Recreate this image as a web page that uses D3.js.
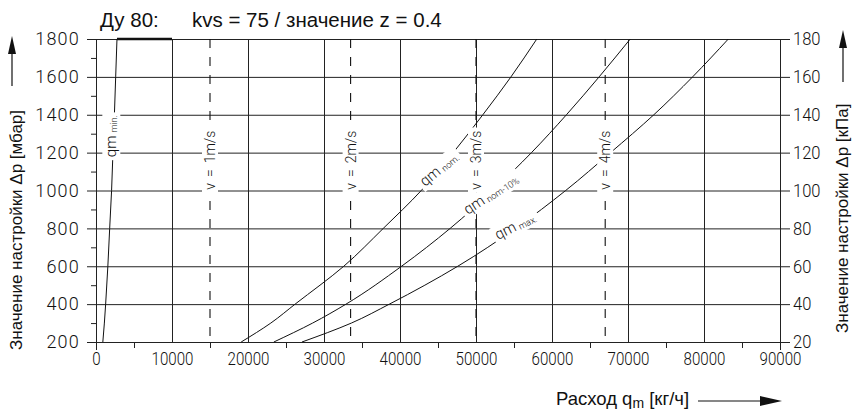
<!DOCTYPE html>
<html>
<head>
<meta charset="utf-8">
<script src="https://cdn.jsdelivr.net/npm/d3@7"></script>
<style>
  html, body { margin: 0; padding: 0; background: #fff; }
  svg { display: block; }
  .tick line { stroke: #222; }
  .iso { font-family: Roboto, "DejaVu Sans", sans-serif; font-weight: 300; fill: #111; }
  .arial { font-family: "Liberation Sans", Arial, sans-serif; fill: #111; }
</style>
</head>
<body>
<div id="chart"></div>
<script>
// Ду 80 pressure-setting chart: flow qm (kg/h) vs setting Δp (mbar)

// Δp levels at which the curves were read (mbar)
const dpLevels = [200, 300, 400, 600, 800, 1000, 1200, 1400, 1600, 1800];
// flow readings (kg/h) at each Δp level
const qmMin   = [900, 1100, 1270, 1560, 1800, 2050, 2230, 2420, 2590, 2760];
const qmNom   = [19100, 23000, 26200, 32600, 37800, 42800, 47000, 50900, 54600, 58000];
const qmNom10 = [23400, 28500, 32900, 40200, 46600, 52200, 57300, 61900, 66200, 70300];
const qmMax   = [27100, 33600, 38600, 47600, 55200, 61800, 67700, 73400, 78500, 83200];
// bold upper limit at 1800 mbar
const capFlow = [2760, 10000];
const capDp = 1800;

// velocity lines
const velLabels = ['1m/s', '2m/s', '3m/s', '4m/s'];
const velFlow = [15000, 33500, 50000, 67000];

// ticks
const xTicks = [0, 10000, 20000, 30000, 40000, 50000, 60000, 70000, 80000, 90000];
const xMinor = [5000, 15000, 25000, 35000, 45000, 55000, 65000, 75000, 85000];
const yTicks = [200, 400, 600, 800, 1000, 1200, 1400, 1600, 1800];
const yMinor = [300, 500, 700, 900, 1100, 1300, 1500, 1700];
const yRightTicks = [20, 40, 60, 80, 100, 120, 140, 160, 180];

const W = 852, H = 414;
const x = d3.scaleLinear().domain([0, 90000]).range([96, 780]);
const y = d3.scaleLinear().domain([200, 1800]).range([342, 39]);
const yR = d3.scaleLinear().domain([20, 180]).range([342, 39]);

const svg = d3.select('#chart').append('svg')
    .attr('width', W).attr('height', H);

// horizontal grid + left labels
const gLeft = svg.append('g')
    .attr('transform', 'translate(87,0)')
    .call(d3.axisLeft(y).tickValues(yTicks).tickSize(-(790 - 87)).tickPadding(7)
        .tickFormat(d3.format('d')));
gLeft.select('.domain').remove();
gLeft.selectAll('text').attr('class', 'iso').attr('font-size', 18).attr('font-family', null)
    .attr('letter-spacing', 1.2);

// left minor ticks
const gLeftMinor = svg.append('g')
    .attr('transform', `translate(${x(0)},0)`)
    .call(d3.axisLeft(y).tickValues(yMinor).tickSize(5).tickFormat(''));
gLeftMinor.select('.domain').remove();

// right labels
const gRight = svg.append('g')
    .attr('transform', 'translate(790,0)')
    .call(d3.axisRight(yR).tickValues(yRightTicks).tickSize(0).tickPadding(3));
gRight.select('.domain').remove();
gRight.selectAll('text').attr('class', 'iso').attr('font-size', 18).attr('font-family', null)
    .attr('transform', 'scale(0.92,1)')
    .attr('x', 3 / 0.92);

// vertical grid + bottom labels
const gBottom = svg.append('g')
    .attr('transform', `translate(0,${y(200)})`)
    .call(d3.axisBottom(x).tickValues(xTicks).tickSize(-(y(200) - y(1800))).tickPadding(10)
        .tickFormat(d3.format('d')));
gBottom.select('.domain').remove();
gBottom.selectAll('text').attr('class', 'iso').attr('font-size', 18).attr('font-family', null)
    .attr('transform', 'scale(0.84,1)');

// axis end lines run a little past the bottom
const gEnds = svg.append('g')
    .attr('transform', `translate(0,${y(200)})`)
    .call(d3.axisBottom(x).tickValues([0, 90000]).tickSize(8).tickFormat(''));
gEnds.select('.domain').remove();
const gBottomMinor = svg.append('g')
    .attr('transform', `translate(0,${y(200)})`)
    .call(d3.axisBottom(x).tickValues(xMinor).tickSize(6).tickFormat(''));
gBottomMinor.select('.domain').remove();

// velocity dashed lines
const velData = velFlow.map((q, i) => ({ q, label: velLabels[i] }));
svg.append('g').selectAll('line').data(velData).join('line')
    .attr('x1', d => x(d.q)).attr('x2', d => x(d.q))
    .attr('y1', y(1800)).attr('y2', y(200))
    .attr('stroke', '#111').attr('stroke-width', 1.1)
    .attr('stroke-dasharray', '9,9');

// curves
const line = d3.line().x(d => x(d[0])).y(d => y(d[1])).curve(d3.curveMonotoneY);
const curves = [qmMin, qmNom, qmNom10, qmMax].map(arr => arr.map((q, i) => [q, dpLevels[i]]));
svg.append('g').selectAll('path').data(curves).join('path')
    .attr('d', line)
    .attr('fill', 'none').attr('stroke', '#111').attr('stroke-width', 1);

svg.append('line')
    .attr('x1', x(capFlow[0])).attr('x2', x(capFlow[1]))
    .attr('y1', y(capDp)).attr('y2', y(capDp))
    .attr('stroke', '#111').attr('stroke-width', 2.6);

// label with white backing box, in rotated frame
function maskedLabel(px, py, angle, build, pad) {
    const g = svg.append('g').attr('transform', `translate(${px},${py}) rotate(${angle})`);
    const rect = g.append('rect').attr('fill', '#fff');
    const t = g.append('text').attr('class', 'iso');
    build(t);
    const b = t.node().getBBox();
    rect.attr('x', b.x - pad[0]).attr('y', b.y - pad[1])
        .attr('width', b.width + 2 * pad[0]).attr('height', b.height + 2 * pad[1]);
    return g;
}

// velocity labels
velData.forEach(d => {
    maskedLabel(x(d.q) + 5, y(1160), -90, t => {
        t.attr('text-anchor', 'middle').attr('font-size', 14);
        t.append('tspan').text('v');
        t.append('tspan').attr('dx', 6).text('=');
        t.append('tspan').attr('dx', 6).text(d.label);
    }, [3, 0]);
});

// curve labels
function qmLabel(t, sub, big, small) {
    t.attr('font-size', big);
    t.append('tspan').text('qm');
    t.append('tspan').attr('font-size', small).attr('dx', 3).attr('dy', 1).text(sub);
}
maskedLabel(x(2280) + 3, y(1176), -90, t => qmLabel(t, 'min.', 15, 9), [3, 0]);
maskedLabel(x(43300), y(1018), -40, t => qmLabel(t, 'nom.', 15, 9), [3, 0]);
maskedLabel(x(48900), y(870), -33, t => qmLabel(t, 'nom-10%', 15, 9), [3, 0]);
maskedLabel(x(52900), y(738), -27, t => qmLabel(t, 'max.', 15, 9), [3, 0]);

// title
svg.append('text').attr('class', 'arial').attr('x', 100).attr('y', 27)
    .attr('font-size', 20.5).text('Ду 80:');
svg.append('text').attr('class', 'arial').attr('x', 192).attr('y', 27)
    .attr('font-size', 20.5).text('kvs = 75 / значение z = 0.4');

// left axis title + arrow
svg.append('text').attr('class', 'arial')
    .attr('transform', 'translate(22,350) rotate(-90)')
    .attr('font-size', 17).text('Значение настройки Δр [мбар]');
svg.append('line').attr('x1', 12).attr('x2', 12).attr('y1', 86).attr('y2', 52)
    .attr('stroke', '#111').attr('stroke-width', 1.2);
svg.append('path').attr('d', 'M12,36 L8,54 L16,54 Z').attr('fill', '#111');

// right axis title + arrow
svg.append('text').attr('class', 'arial')
    .attr('transform', 'translate(848,333) rotate(-90)')
    .attr('font-size', 17).text('Значение настройки Δр [кПа]');
svg.append('line').attr('x1', 843).attr('x2', 843).attr('y1', 82).attr('y2', 48)
    .attr('stroke', '#111').attr('stroke-width', 1.2);
svg.append('path').attr('d', 'M843,30 L839,48 L847,48 Z').attr('fill', '#111');

// bottom axis title + arrow
const xt = svg.append('text').attr('class', 'arial').attr('x', 556).attr('y', 405).attr('font-size', 18.5);
xt.append('tspan').text('Расход q');
xt.append('tspan').attr('font-size', 14).attr('dy', 3).text('m');
xt.append('tspan').attr('dy', -3).text(' [кг/ч]');
svg.append('line').attr('x1', 698).attr('x2', 762).attr('y1', 401).attr('y2', 401)
    .attr('stroke', '#111').attr('stroke-width', 1.2);
svg.append('path').attr('d', 'M782,401 L760,396 L760,406 Z').attr('fill', '#111');
</script>
</body>
</html>
